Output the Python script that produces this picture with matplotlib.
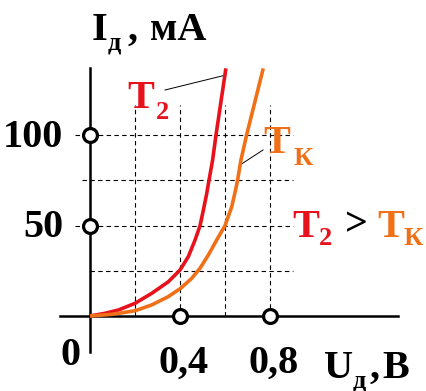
"""
Diode forward I-V characteristic at two temperatures (T2 > TK).
"""

import matplotlib.pyplot as plt

RED = "#E8121C"; ORANGE = "#F07018"; INK = "black"
FONT = "Liberation Serif"

# forward voltage, V / current, mA
u_t2 = [0, 0.067, 0.126, 0.2, 0.274, 0.348, 0.4, 0.437, 0.467, 0.489,
        0.503, 0.519, 0.529, 0.545, 0.56, 0.604]
i_t2 = [0, 1.5, 3.3, 7.0, 12.5, 18.9, 25.4, 32.8, 42, 49.9,
        58, 67.8, 75.1, 86.2, 100, 136.8]
u_tk = [0, 0.096, 0.2, 0.274, 0.348, 0.403, 0.452, 0.489, 0.526, 0.563,
        0.6, 0.63, 0.647, 0.656, 0.671, 0.696, 0.77]
i_tk = [0, 0.9, 2.9, 6.1, 10.7, 15.3, 20.8, 26.4, 33.7, 42,
        49.9, 60.4, 69.6, 75.1, 86.2, 100, 136.8]

grid_u = [0.2, 0.4, 0.6, 0.8]
grid_i = [25, 50, 75, 100]
tick_u = [0.4, 0.8]
tick_i = [50, 100]
tick_u_lbl = ["0,4", "0,8"]
tick_i_lbl = ["50", "100"]

fig = plt.figure(figsize=(4.26, 3.91), dpi=100)
ax = fig.add_axes([0, 0, 1, 1])
ax.set_xlim(-90 / 225, 336 / 225); ax.set_ylim(-75 / 1.81, 316 / 1.81); ax.axis("off")

def px(x, y):
    # picture pixel -> data coords (origin drawn at pixel 90, 316)
    return (x - 90) / 225, (316 - y) / 1.81

# dashed grid
starts = {25: 0.0, 50: -0.067, 75: -0.036, 100: -0.067}
for i in grid_i:
    ax.plot([starts[i], 0.902], [i, i], color=INK, lw=0.8, ls=(0, (4, 3)), zorder=1)
for u in grid_u:
    ax.plot([u, u], [0, 116.5], color=INK, lw=0.8, ls=(0, (4, 3)), zorder=1)

# axes
ax.plot([-0.133, 1.369], [0, 0], color=INK, lw=1.8, zorder=2)
ax.plot([0, 0], [-20, 137], color=INK, lw=1.8, zorder=2)

# curves
ax.plot(u_t2, i_t2, color=RED, lw=2.6, zorder=3, solid_capstyle="butt")
ax.plot(u_tk, i_tk, color=ORANGE, lw=2.6, zorder=3, solid_capstyle="butt")

# hollow tick markers
ax.plot(tick_u, [0] * len(tick_u), "o", ms=10, mfc="white", mec=INK, mew=2.3, zorder=4)
ax.plot([0] * len(tick_i), tick_i, "o", ms=10, mfc="white", mec=INK, mew=2.3, zorder=4)

big = dict(family=FONT, weight="bold", fontsize=29)
sub = dict(family=FONT, weight="bold", fontsize=19)

def put(x, y, s, style, **kw):
    ax.text(*px(x, y), s, ha=kw.pop("ha", "left"), va=kw.pop("va", "baseline"), **style, **kw)

for u, s in zip(tick_u, tick_u_lbl):
    put(90 + u * 225 + 4, 373, s, big, ha="center")
put(33, 147, tick_i_lbl[1], big, ha="center")
put(43, 237, tick_i_lbl[0], big, ha="center")
put(71, 365, "0", big, ha="center")

# axis titles
put(92, 40, "I", big)
put(108, 50, "д", sub)
put(127, 40, ",", big)
put(150, 40, "мА", big)
put(324, 378, "U", big)
put(353, 387, "д", sub)
put(370, 378, ",", big)
put(382, 378, "В", big)

# curve labels
put(127, 108, "Т", big, color=RED)
put(156, 119, "2", sub, color=RED)
ax.plot(*zip(px(165, 90), px(226, 75)), color=INK, lw=0.7)
put(263, 153, "Т", big, color=ORANGE)
put(293, 165, "К", sub, color=ORANGE)
ax.plot(*zip(px(240, 165), px(263, 150)), color=INK, lw=0.7)

put(292, 237, "Т", big, color=RED)
put(319, 245, "2", sub, color=RED)
put(345, 235, ">", big, color=INK)
put(377, 237, "Т", big, color=ORANGE)
put(403, 245, "К", sub, color=ORANGE)

plt.savefig("out.png", dpi=100)
